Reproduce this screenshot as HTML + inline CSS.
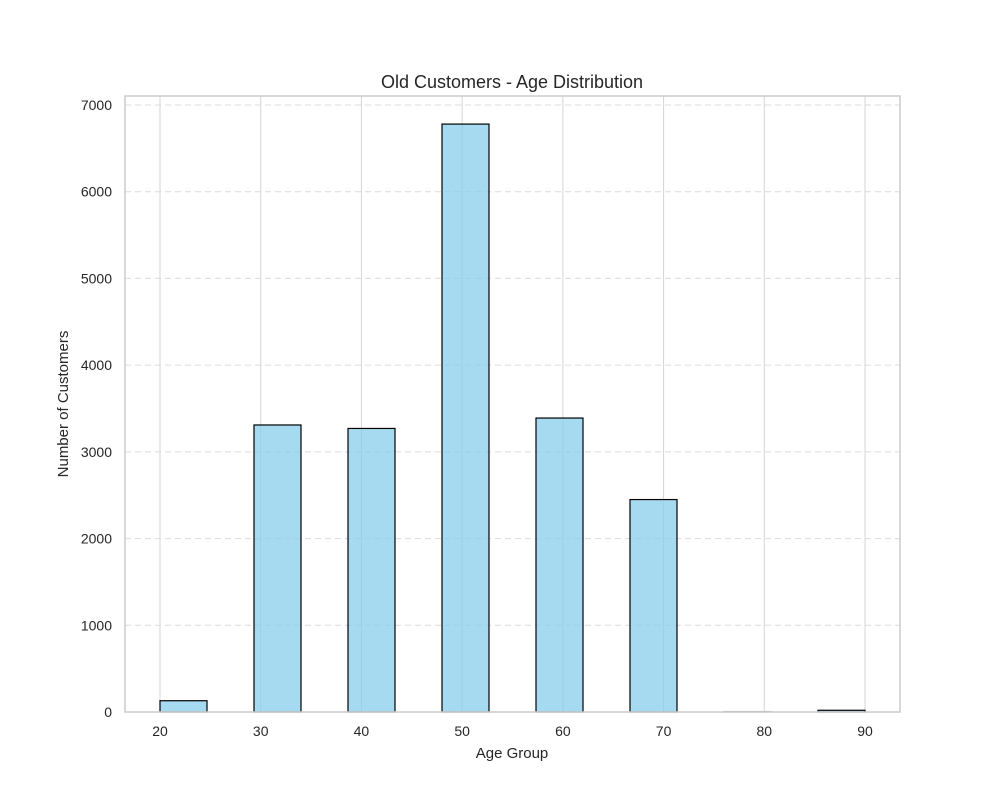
<!DOCTYPE html>
<html><head><meta charset="utf-8"><style>
body{margin:0;background:#fff;font-family:"Liberation Sans","DejaVu Sans",sans-serif}
text{font-family:"Liberation Sans","DejaVu Sans",sans-serif;fill:#262626}
</style></head><body>
<svg id="c" width="1000" height="800">
<rect width="1000" height="800" fill="#fff"/>
</svg>
<script>
const binEdgesStart = 20;
const binEdgesEnd = 90;
const binCount = 15;
const counts = [130,0,3310,0,3270,0,6780,0,3390,0,2450,0,5,0,20];
const xTicks = [20,30,40,50,60,70,80,90];
const yTicks = [0,1000,2000,3000,4000,5000,6000,7000];
const titleText = "Old Customers - Age Distribution";
const L=125,R=900,T=96,B=712;
const xs=v=>160+(v-20)*(705/70);
const ys=v=>712-v*(607/7000);
const svg=document.getElementById('c');
const NS='http://www.w3.org/2000/svg';
function mk(t,a,p){const e=document.createElementNS(NS,t);for(const k in a)e.setAttribute(k,a[k]);(p||svg).appendChild(e);return e;}
yTicks.forEach(v=>{if(v===0)return;const l=mk('line',{x1:L,x2:R,y1:ys(v),y2:ys(v),stroke:'#dcdcdc','stroke-dasharray':'6,4','stroke-width':1});

});
xTicks.forEach(v=>{const l=mk('line',{x1:xs(v),x2:xs(v),y1:T,y2:B,stroke:'#d5d5d5','stroke-width':1});

});
const w=(binEdgesEnd-binEdgesStart)/binCount;
counts.forEach((c,i)=>{if(c<=0)return;const x0=xs(binEdgesStart+i*w),x1=xs(binEdgesStart+(i+1)*w);
const r=mk('rect',{x:x0,y:ys(c),width:x1-x0,height:B-ys(c),fill:'rgba(135,206,235,0.75)',stroke:c<10?'#aaa':'#000','stroke-width':1.2});

});
const f=mk('rect',{x:L,y:T,width:R-L,height:B-T,fill:'none',stroke:'#ccc','stroke-width':1.5});


xTicks.forEach(v=>{const t=mk('text',{x:xs(v),y:736,'text-anchor':'middle','font-size':14});t.textContent=v;

});
yTicks.forEach(v=>{const t=mk('text',{x:112,y:ys(v)+5,'text-anchor':'end','font-size':14});t.textContent=v;

});
let t=mk('text',{x:512,y:88,'text-anchor':'middle','font-size':18});t.textContent=titleText;


t=mk('text',{x:512,y:758,'text-anchor':'middle','font-size':15});t.textContent='Age Group';


t=mk('text',{x:0,y:0,'text-anchor':'middle','font-size':15,transform:'translate(68,404) rotate(-90)'});t.textContent='Number of Customers';


</script>
</body></html>
